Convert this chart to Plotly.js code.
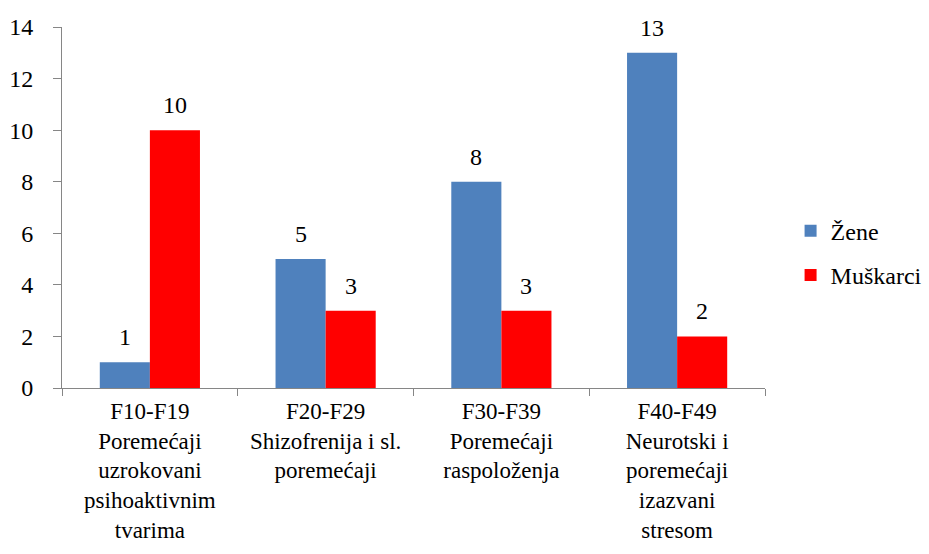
<!DOCTYPE html>
<html>
<head>
<meta charset="utf-8">
<script src="https://cdn.plot.ly/plotly-3.0.1.min.js"></script>
<style>html,body{margin:0;padding:0;background:#fff;}#chart{width:929px;height:554px;}</style>
</head>
<body>
<div id="chart"></div>
<script>
const categories = [
  "F10-F19<br>Poremećaji<br>uzrokovani<br>psihoaktivnim<br>tvarima",
  "F20-F29<br>Shizofrenija i sl.<br>poremećaji",
  "F30-F39<br>Poremećaji<br>raspoloženja",
  "F40-F49<br>Neurotski i<br>poremećaji<br>izazvani<br>stresom"
];
const zene = [1, 5, 8, 13];
const muskarci = [10, 3, 3, 2];
const yTicks = [0, 2, 4, 6, 8, 10, 12, 14];

const FAM = "Liberation Serif, Times New Roman, serif";
function mkFont(size) { return {family: FAM, size: size, color: "#000000"}; }

const traces = [
  {type: "bar", name: "Žene", legendgroup: "a", x: categories, y: zene, marker: {color: "#4F81BD"}},
  {type: "bar", name: "Muškarci", legendgroup: "b", x: categories, y: muskarci, marker: {color: "#FF0000"}}
];

const annotations = [];
[[zene, -25], [muskarci, 25]].forEach(([vals, dx]) => {
  vals.forEach((v, i) => {
    annotations.push({x: categories[i], y: v, xref: "x", yref: "y", text: String(v),
      showarrow: false, xshift: dx, yshift: 10, yanchor: "bottom", font: mkFont(24)});
  });
});

const layout = {
  width: 929, height: 554,
  margin: {l: 62, r: 164, t: 27, b: 166},
  paper_bgcolor: "#fff", plot_bgcolor: "#fff",
  font: mkFont(24),
  barmode: "group",
  bargap: 0.43, bargroupgap: 0,
  showlegend: true,
  legend: {xref: "container", yref: "container", x: 0.851, y: 0.543, xanchor: "left", yanchor: "middle",
           font: mkFont(24), traceorder: "grouped", tracegroupgap: 10, itemwidth: 30},
  annotations: annotations,
  xaxis: {type: "category", showline: true, linecolor: "#868686", linewidth: 1,
          ticks: "outside", tickson: "boundaries", ticklen: 7, tickcolor: "#868686", ticklabelstandoff: 2,
          showgrid: false, zeroline: false, tickfont: mkFont(23), tickangle: 0},
  yaxis: {range: [0, 14], tickvals: yTicks, ticktext: yTicks.map(String),
          showline: true, linecolor: "#868686", linewidth: 1,
          ticks: "outside", ticklen: 8, tickcolor: "#868686", ticklabelstandoff: 15,
          showgrid: false, zeroline: false, tickfont: mkFont(24)}
};

Plotly.newPlot("chart", traces, layout, {displayModeBar: false});
</script>
</body>
</html>
